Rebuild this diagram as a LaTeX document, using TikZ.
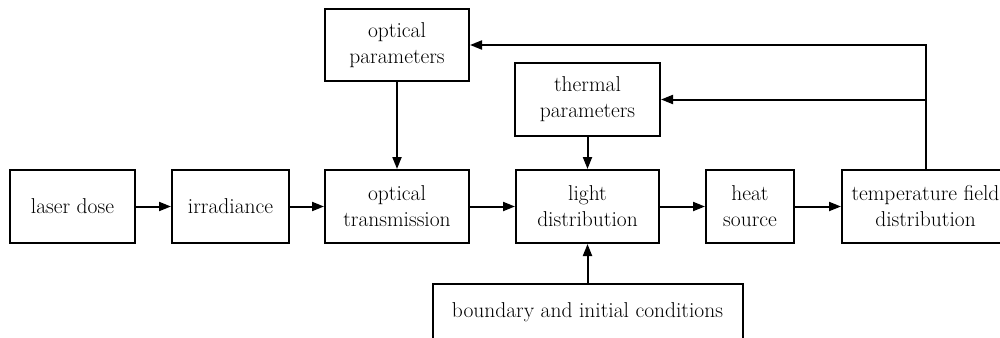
\documentclass[tikz,border=0pt]{standalone}
\usetikzlibrary{arrows.meta}

\begin{document}
\begin{tikzpicture}[
        x=1pt,
        y=-1pt,
        block/.style={
            draw,
            line width=2pt,
            inner sep=2pt,
            align=center,
            minimum height=73pt,
            font=\fontsize{21.5}{26}\selectfont,
        },
        flow/.style={
            line width=2pt,
            -{Triangle[length=12pt,width=9pt]},
        },
    ]
    \useasboundingbox (0,0) rectangle (1000,337);
    \clip (0,0) rectangle (1000,337);

    % Main chain.
    \node[block, minimum width=125pt] (dose) at (72.5,206.5) {laser dose};
    \node[block, minimum width=117pt] (irrad) at (230.5,206.5) {irradiance};
    \node[block, minimum width=144pt] (trans) at (397,206.5) {optical\\transmission};
    \node[block, minimum width=143pt] (light) at (587.5,206.5) {light\\distribution};
    \node[block, minimum width=88pt] (heat) at (750,206.5) {heat\\source};
    \node[block, minimum width=167pt] (temp) at (925.5,206.5) {temperature field\\distribution};

    % Parameters and conditions.
    \node[block, minimum width=144pt, minimum height=72pt] (optpar) at (397,45) {optical\\parameters};
    \node[block, minimum width=145pt] (thermpar) at (587.5,99.5) {thermal\\parameters};
    \node[block, minimum width=310pt, minimum height=56pt] (bound) at (587.5,312) {boundary and initial conditions};

    % Forward links.
    \foreach \a/\b in {dose/irrad, irrad/trans, trans/light, light/heat, heat/temp}
    \draw[flow] (\a) -- (\b);

    \draw[flow] (optpar) -- (trans);
    \draw[flow] (thermpar) -- (light);
    \draw[flow] (bound) -- (light);

    % Feedback.
    \coordinate (fb) at (temp.north |- thermpar.east);
    \draw[flow] (temp.north) |- (optpar.east);
    \draw[flow] (fb) -- (thermpar.east);
\end{tikzpicture}
\end{document}
